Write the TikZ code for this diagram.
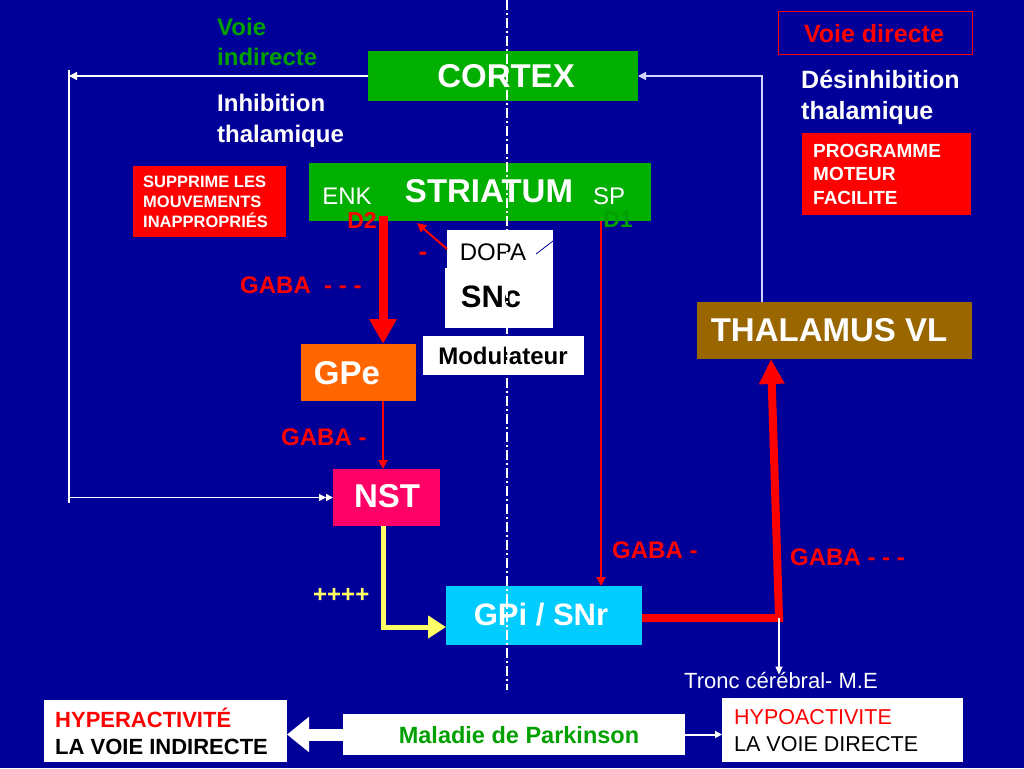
\documentclass[tikz,border=0pt]{standalone}
\usepackage{fontspec}
\setmainfont{Liberation Sans}
\usetikzlibrary{arrows.meta}
\definecolor{bg}{RGB}{0,0,153}
\definecolor{boxgreen}{RGB}{0,175,0}
\definecolor{txtgreen}{RGB}{0,160,0}
\definecolor{myred}{RGB}{255,0,0}
\definecolor{myorange}{RGB}{255,102,0}
\definecolor{mypink}{RGB}{255,0,102}
\definecolor{mycyan}{RGB}{0,204,255}
\definecolor{mybrown}{RGB}{153,102,0}
\definecolor{myyellow}{RGB}{255,255,102}
\definecolor{lav}{RGB}{210,210,255}
\newcommand\myfs[2]{\fontsize{#1}{#2}\selectfont}
\begin{document}
\begin{tikzpicture}[x=1pt,y=-1pt,
  box/.style={inner sep=0pt,outer sep=0pt},
  wtxt/.style={text=white,inner sep=0pt,font=\bfseries\myfs{33}{38}},
  lbl/.style={inner sep=0pt,anchor=west,align=left},
  wline/.style={draw=white,line width=1.3pt},
  redthin/.style={draw=myred,line width=2.5pt},
  tipS/.style={-{Triangle[length=9pt,width=9pt]}}
]
\fill[bg] (0,0) rectangle (1024,768);
\useasboundingbox (0,0) rectangle (1024,768);

% boxes
\node[box,fill=boxgreen,minimum width=270pt,minimum height=50pt] (cortex) at (503,76) {};
\node[wtxt] at (506,76) {CORTEX};
\node[box,fill=boxgreen,minimum width=342pt,minimum height=58pt] (striatum) at (480,192) {};
\node[text=white,inner sep=0pt,font=\myfs{24}{28}] (enk) at (347,196) {ENK};
\node[wtxt] (stxt) at (489,191) {STRIATUM};
\node[text=white,inner sep=0pt,font=\myfs{24}{28}] (sp) at (609,196) {SP};
\node[text=myred,inner sep=0pt,font=\bfseries\myfs{23}{28}] (d2) at (362,220) {D2};
\node[text=txtgreen,inner sep=0pt,font=\bfseries\myfs{23}{28}] (d1) at (618,220) {D1};

\node[box,fill=myred,minimum width=153pt,minimum height=71pt] (supp) at (209.5,201.5) {};
\node[lbl,text=white,font=\bfseries\myfs{16.5}{20}] (supptxt) at (143,202) {SUPPRIME LES\\MOUVEMENTS\\INAPPROPRIÉS};

\node[box,draw=myred,line width=1pt,minimum width=194pt,minimum height=43pt] (vd) at (875,33.5) {};
\node[text=myred,inner sep=0pt,font=\bfseries\myfs{25}{30}] (vdtxt) at (874,34) {Voie directe};

\node[lbl,text=white,font=\bfseries\myfs{25}{31}] (desinh) at (801,97) {Désinhibition\\thalamique};
\node[box,fill=myred,minimum width=169pt,minimum height=82pt] (prog) at (886.5,174) {};
\node[lbl,text=white,font=\bfseries\myfs{19}{23.5}] (progtxt) at (813,174) {PROGRAMME\\MOTEUR\\FACILITE};

\node[lbl,text=txtgreen,font=\bfseries\myfs{24}{30}] (vi) at (217,42) {Voie\\indirecte};
\node[lbl,text=white,font=\bfseries\myfs{24}{31}] (inh) at (217,121) {Inhibition\\thalamique};

\node[box,fill=white,minimum width=106pt,minimum height=38pt] (dopa) at (500,249) {};
\node[inner sep=0pt,font=\myfs{24}{28}] (dopatxt) at (493,252) {DOPA};
\node[box,fill=white,minimum width=108pt,minimum height=60pt] (snc) at (499,298) {};
\node[inner sep=0pt,font=\bfseries\myfs{31}{36}] (snctxt) at (491,297) {SNc};
\draw[bg,line width=0.8pt] (536,254) -- (553,241);
\node[text=myred,inner sep=0pt,font=\bfseries\myfs{26}{30}] (minus) at (423,256) {-};

\node[box,fill=white,minimum width=161pt,minimum height=39pt] (modul) at (503.5,355.5) {};
\node[inner sep=0pt,font=\bfseries\myfs{24}{28}] (modtxt) at (503,356) {Modulateur};

\node[box,fill=myorange,minimum width=115pt,minimum height=57pt] (gpe) at (358.5,372.5) {};
\node[wtxt] at (347,373) {GPe};
\node[box,fill=mypink,minimum width=107pt,minimum height=57pt] (nst) at (386.5,497.5) {};
\node[wtxt] at (387,496) {NST};
\node[box,fill=mycyan,minimum width=196pt,minimum height=59pt] (gpi) at (544,615.5) {};
\node[text=white,inner sep=0pt,font=\bfseries\myfs{31}{36}] at (541,615) {GPi / SNr};
\node[box,fill=mybrown,minimum width=275pt,minimum height=57pt] (thal) at (834.5,330.5) {};
\node[wtxt] at (829,330) {THALAMUS VL};

% labels
\node[lbl,text=myred,font=\bfseries\myfs{24}{28}] (g1) at (240,285) {GABA\ \ - - -};
\node[lbl,text=myred,font=\bfseries\myfs{24}{28}] (g2) at (281,437) {GABA -};
\node[lbl,text=myred,font=\bfseries\myfs{24}{28}] (g3) at (612,550) {GABA -};
\node[lbl,text=myred,font=\bfseries\myfs{24}{28}] (g4) at (790,557) {GABA - - -};
\node[lbl,text=myyellow,font=\bfseries\myfs{24}{28}] (plus) at (313,595) {++++};
\node[lbl,text=white,font=\myfs{22}{26}] (tronc) at (684,680) {Tronc cérébral- M.E};

% bottom boxes
\node[box,fill=white,minimum width=243pt,minimum height=62pt] (hyper) at (165.5,731) {};
\node[lbl,font=\bfseries\myfs{22}{27}] at (55,731) {\textcolor{myred}{HYPERACTIVITÉ}\\LA VOIE INDIRECTE};
\node[box,fill=white,minimum width=342pt,minimum height=41pt] (mal) at (514,734.5) {};
\node[text=txtgreen,inner sep=0pt,font=\bfseries\myfs{23.5}{28}] at (519,735) {Maladie de Parkinson};
\node[box,fill=white,minimum width=241pt,minimum height=64pt] (hypo) at (842.5,730) {};
\node[lbl,font=\myfs{21.5}{27}] at (734,731) {\textcolor{myred}{HYPOACTIVITE}\\LA VOIE DIRECTE};

% coordinates
\coordinate (lt) at (69,76);
\coordinate (ltop) at (69,70);
\coordinate (lbot) at (69,503);
\coordinate (lm) at (69,497.5);
\coordinate (rt) at (762,76);
\coordinate (ax) at (383,0);
\coordinate (bx) at (601,0);
\coordinate (d2s) at (383,216);
\coordinate (da) at (417,223);
\coordinate (yc) at (383,627);
\coordinate (tc1) at (779,618);
\coordinate (tc2) at (771,0);

% connectors
\draw[wline,-{Triangle[length=8pt,width=8pt]}] (cortex.west) -- (lt);
\draw[wline] (ltop) -- (lbot);
\draw[wline,-{Triangle[length=7pt,width=7pt]Triangle[length=7pt,width=7pt]}] (lm) -- (nst.west);
\draw[draw=lav,line width=1.3pt,-{Triangle[length=8pt,width=8pt]}] (rt |- thal.north) -- (rt) -- (cortex.east);
\draw[myred,line width=9pt,-{Triangle[length=25pt,width=26pt]}] (d2s) -- (d2s |- gpe.north);
\draw[myred,line width=2pt,-{Triangle[length=9pt,width=9pt]}] (dopa.west) -- (da);
\draw[redthin,tipS] (ax |- gpe.south) -- (ax |- nst.north);
\draw[redthin,tipS] (bx |- striatum.south) -- (bx |- gpi.north);
\draw[myyellow,line width=5pt,-{Triangle[length=18pt,width=22pt]}] (ax |- nst.south) -- (yc) -- (yc -| gpi.west);
\draw[myred,line width=8pt,-{Triangle[length=25pt,width=24pt]}] (gpi.east |- tc1) -- (tc1) -- (tc2 |- thal.south);
\draw[wline,line width=1.2pt,-{Triangle[length=8pt,width=7pt]}] (tc1) -- ([yshift=-3pt]tc1 |- tronc.north);
\draw[white,line width=12pt,-{Triangle[length=22pt,width=34pt]}] (mal.west) -- (mal.west -| hyper.east);
\draw[white,line width=2pt,-{Triangle[length=7pt,width=7pt]}] (mal.east) -- (mal.east -| hypo.west);

% dash-dot axis
\draw[white,line width=1.1pt,dash pattern=on 10pt off 3pt on 2pt off 3pt] (507,0) -- (507,690);
\end{tikzpicture}
\end{document}
